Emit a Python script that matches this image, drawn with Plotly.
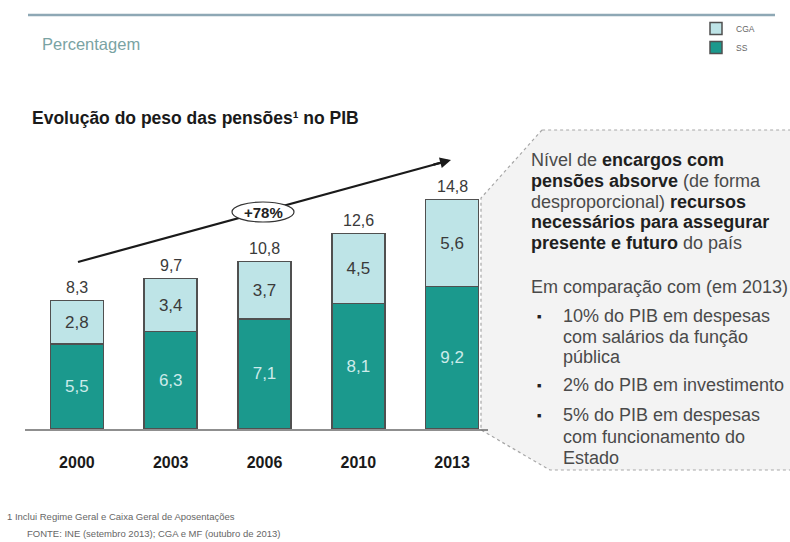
import plotly.graph_objects as go

# ---- data ----
years = ["2000", "2003", "2006", "2010", "2013"]
ss_values = [5.5, 6.3, 7.1, 8.1, 9.2]
cga_values = [2.8, 3.4, 3.7, 4.5, 5.6]
total_values = [8.3, 9.7, 10.8, 12.6, 14.8]
growth_label = "+78%"

header_text = "Percentagem"
title_text = "Evolução do peso das pensões¹ no PIB"
box_intro = [
    "Nível de <b>encargos com</b>",
    "<b>pensões absorve</b> (de forma",
    "desproporcional) <b>recursos</b>",
    "<b>necessários para assegurar</b>",
    "<b>presente e futuro</b> do país",
]
box_compare = "Em comparação com (em 2013)"
box_bullets = [
    ["10% do PIB em despesas", "com salários da função", "pública"],
    ["2% do PIB em investimento"],
    ["5% do PIB em despesas", "com funcionamento do", "Estado"],
]
footnote_1 = "1 Inclui Regime Geral e Caixa Geral de Aposentações"
footnote_2 = "FONTE: INE (setembro 2013); CGA e MF (outubro de 2013)"

# ---- helpers ----
W, H = 790, 542
FONT = "Liberation Sans, Arial, sans-serif"


def px(x):
    return x / W


def py(y):
    return 1 - y / H


def fmt(v):
    return f"{v:.1f}".replace(".", ",")


SS_COLOR = "#1b998d"
CGA_COLOR = "#bee4e7"
OUTLINE = "#505050"

fig = go.Figure()
fig.add_bar(
    x=years, y=ss_values, name="SS",
    marker=dict(color=SS_COLOR, line=dict(color=OUTLINE, width=1.5)),
    text=[fmt(v) for v in ss_values], textposition="inside",
    insidetextanchor="middle", textangle=0, constraintext="none",
    textfont=dict(family=FONT, size=17, color="#cdebea"),
    hoverinfo="skip",
)
fig.add_bar(
    x=years, y=cga_values, name="CGA",
    marker=dict(color=CGA_COLOR, line=dict(color=OUTLINE, width=1.5)),
    text=[fmt(v) for v in cga_values], textposition="inside",
    insidetextanchor="middle", textangle=0, constraintext="none",
    textfont=dict(family=FONT, size=17, color="#3a3a3a"),
    hoverinfo="skip",
)

annotations = []
# totals above bars (x given as category index)
for i, t in enumerate(total_values):
    annotations.append(dict(
        x=i, y=t, xref="x", yref="y", text=fmt(t), showarrow=False,
        xanchor="center", yanchor="middle", yshift=13,
        font=dict(family=FONT, size=16, color="#3a3a3a"),
    ))

# arrow head (shaft drawn as a shape below the ellipse)
annotations.append(dict(
    x=px(451), y=py(160), xref="paper", yref="paper",
    ax=-19, ay=5, axref="pixel", ayref="pixel",
    text="", showarrow=True, arrowhead=2, arrowsize=1, arrowwidth=2.2,
    arrowcolor="#1a1a1a",
))
annotations.append(dict(
    x=px(263), y=py(212), xref="paper", yref="paper", text=f"<b>{growth_label}</b>",
    xanchor="center", yanchor="middle",
    showarrow=False, font=dict(family=FONT, size=15, color="#222"),
))

# header / title
annotations.append(dict(
    x=px(40), y=py(44), xref="paper", yref="paper", xanchor="left", yanchor="middle",
    text=header_text, showarrow=False, font=dict(family=FONT, size=16.5, color="#7aa3a3"),
))
annotations.append(dict(
    x=px(30), y=py(118), xref="paper", yref="paper", xanchor="left", yanchor="middle",
    text=f"<b>{title_text}</b>", showarrow=False,
    font=dict(family=FONT, size=17.5, color="#1a1a1a"),
))

# text box content
TXT = "#4a4a4a"
BOLD = "#1f1f1f"
BOX_SIZE = 18
BOX_X = 529
line_y = [160, 181, 202, 222, 243]
for txt, yy in zip(box_intro, line_y):
    txt = txt.replace("<b>", f"<b><span style='color:{BOLD}'>").replace("</b>", "</span></b>")
    annotations.append(dict(
        x=px(BOX_X), y=py(yy), xref="paper", yref="paper", xanchor="left", yanchor="middle",
        text=txt, showarrow=False, font=dict(family=FONT, size=BOX_SIZE, color=TXT),
    ))
annotations.append(dict(
    x=px(BOX_X), y=py(287), xref="paper", yref="paper", xanchor="left", yanchor="middle",
    text=box_compare, showarrow=False, font=dict(family=FONT, size=BOX_SIZE, color=TXT),
))
bullet_y = [[316, 337, 357], [385], [415, 437, 458]]
for lines, ys in zip(box_bullets, bullet_y):
    annotations.append(dict(
        x=px(539), y=py(ys[0]), xref="paper", yref="paper", xanchor="center", yanchor="middle",
        text="■", showarrow=False, font=dict(family=FONT, size=7, color="#222"),
    ))
    for txt, yy in zip(lines, ys):
        annotations.append(dict(
            x=px(561), y=py(yy), xref="paper", yref="paper", xanchor="left", yanchor="middle",
            text=txt, showarrow=False, font=dict(family=FONT, size=BOX_SIZE, color=TXT),
        ))

# footnotes
annotations.append(dict(
    x=px(5), y=py(516), xref="paper", yref="paper", xanchor="left", yanchor="middle",
    text=footnote_1, showarrow=False, font=dict(family=FONT, size=9.5, color="#666"),
))
annotations.append(dict(
    x=px(25), y=py(533), xref="paper", yref="paper", xanchor="left", yanchor="middle",
    text=footnote_2, showarrow=False, font=dict(family=FONT, size=9.5, color="#666"),
))

# shapes
box_pts = [(542, 130), (481, 198), (481, 430), (550, 470), (800, 470), (800, 130)]
path = "M " + " L ".join(f"{px(x):.5f},{py(y):.5f}" for x, y in box_pts) + " Z"
shapes = [
    dict(type="path", xref="paper", yref="paper", path=path, layer="below",
         fillcolor="#f3f3f3", line=dict(color="#a8a8a8", width=1.2, dash="dot")),
    dict(type="line", xref="paper", yref="paper", x0=px(28), x1=px(775), y0=py(15), y1=py(15),
         line=dict(color="#8ea8b5", width=2.5)),
    dict(type="line", xref="paper", yref="paper", x0=px(25), x1=px(488), y0=py(430), y1=py(430),
         line=dict(color="#6a6a6a", width=1.3)),
    # arrow shaft
    dict(type="line", xref="paper", yref="paper", x0=px(78), y0=py(262), x1=px(440), y1=py(163),
         line=dict(color="#1a1a1a", width=2.2)),
    # ellipse around growth label
    dict(type="circle", xref="paper", yref="paper", x0=px(232), x1=px(294), y0=py(222), y1=py(202),
         fillcolor="white", line=dict(color="#333", width=1.2)),
]

# axis geometry: bar centres 77..452 px, baseline at 429 px, 15.5 px per unit
x_left, x_right = 30, 499
y_base, y_top = 429, 150
y_max = (y_base - y_top) / 15.5

fig.update_layout(
    width=W, height=H,
    margin=dict(l=0, r=0, t=0, b=0),
    paper_bgcolor="white", plot_bgcolor="rgba(0,0,0,0)",
    barmode="stack", bargap=0.435,
    font=dict(family=FONT),
    xaxis=dict(type="category", range=[-0.5, len(years) - 0.5],
               domain=[px(x_left), px(x_right)], showgrid=False,
               zeroline=False, showline=False, ticks="", automargin=False,
               tickfont=dict(family=FONT, size=16, color="#1a1a1a", weight="bold"),
               ticklabelstandoff=22),
    yaxis=dict(range=[0, y_max], domain=[py(y_base), py(y_top)], visible=False,
               automargin=False),
    legend=dict(x=px(696), y=py(14), xanchor="left", yanchor="top",
                font=dict(family=FONT, size=8.5, color="#666"),
                bgcolor="rgba(0,0,0,0)", itemclick=False, itemdoubleclick=False,
                tracegroupgap=0),
    showlegend=True,
    annotations=annotations,
    shapes=shapes,
)

fig.write_html(
    "out.html",
    config={"displayModeBar": False},
    post_script="document.body.style.margin='0';document.body.style.overflow='hidden';",
)
